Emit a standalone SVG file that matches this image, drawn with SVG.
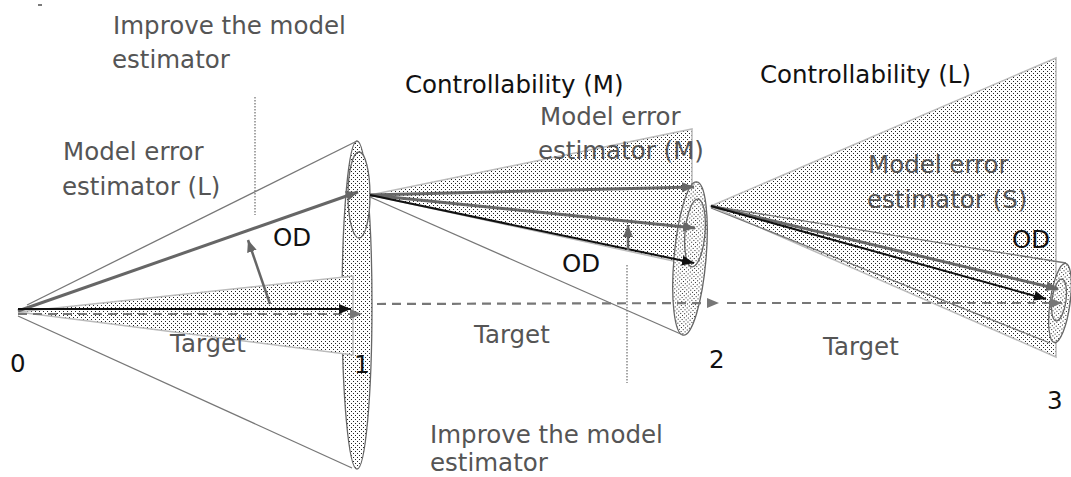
<svg xmlns="http://www.w3.org/2000/svg" width="1071" height="477" viewBox="0 0 1071 477">
<defs>
<pattern id="dots" width="4" height="4" patternUnits="userSpaceOnUse">
<rect width="4" height="4" fill="#fff"/>
<rect x="1" y="1" width="1" height="1" fill="#222"/>
<rect x="3" y="3" width="1" height="1" fill="#222"/>
</pattern>
<marker id="ahG" markerUnits="userSpaceOnUse" markerWidth="14" markerHeight="12" refX="12" refY="5" orient="auto">
<path d="M0,0 L12,5 L0,10 Z" fill="#666"/>
</marker>
<marker id="ahK" markerUnits="userSpaceOnUse" markerWidth="14" markerHeight="12" refX="12" refY="5" orient="auto">
<path d="M0,0 L12,5 L0,10 Z" fill="#111"/>
</marker>
<marker id="ahD" markerUnits="userSpaceOnUse" markerWidth="14" markerHeight="12" refX="12" refY="5" orient="auto">
<path d="M0,0 L12,5 L0,10 Z" fill="#777"/>
</marker>
</defs>
<style>
.t{font-family:"DejaVu Sans","Liberation Sans",sans-serif;font-size:24.5px}
.g{fill:#555}
.k{fill:#111}
.wedge{fill:url(#dots);stroke:#bbb;stroke-width:1.5}
.ell{fill:url(#dots);stroke:#666;stroke-width:1.3}
.thin{stroke:#777;stroke-width:1.3;fill:none}
.gray{stroke:#666;stroke-width:3;fill:none;marker-end:url(#ahG)}
.blk{stroke:#111;stroke-width:2;fill:none;marker-end:url(#ahK)}
.dash{stroke:#777;stroke-width:2.2;fill:none;stroke-dasharray:9,6;marker-end:url(#ahD)}
.dot{stroke:#777;stroke-width:1.3;stroke-dasharray:1.5,1.5;fill:none}
</style>
<rect width="1071" height="477" fill="#fff"/>
<line x1="38" y1="5" x2="42" y2="5" stroke="#222" stroke-width="1.2"/>

<g id="stage3-controllability">
<polygon class="wedge" points="711,206 1056,58 1056,357"/>
</g>
<g id="stage2-error">
<polygon class="wedge" points="370,195 692,129 692,265"/>
</g>
<g id="node1">
<ellipse class="ell" cx="357" cy="305" rx="15" ry="164"/>
<ellipse class="ell" cx="359" cy="195" rx="11" ry="43"/>
</g>
<g id="stage1-target">
<polygon class="wedge" points="18,312 353,276 353,355"/>
</g>
<g id="node2">
<ellipse class="ell" cx="0" cy="0" rx="16" ry="77" transform="translate(690,258.5) rotate(5)"/>
<ellipse class="ell" cx="0" cy="0" rx="10" ry="34" transform="translate(695,233) rotate(5)"/>
</g>
<g id="node3">
<line class="thin" x1="711" y1="206" x2="1066" y2="263"/>
<line class="thin" x1="711" y1="208" x2="1050" y2="343"/>
<ellipse class="ell" cx="0" cy="0" rx="10" ry="40" transform="translate(1060,303) rotate(8)"/>
<ellipse class="ell" cx="0" cy="0" rx="7" ry="21" transform="translate(1059,300) rotate(8)"/>
</g>

<g id="connectors">
<line class="thin" x1="27" y1="305" x2="357" y2="141"/>
<line class="thin" x1="18" y1="316" x2="352" y2="468"/>
<line class="thin" x1="370" y1="197" x2="683" y2="335"/>
<line class="dot" x1="255" y1="97" x2="255" y2="215"/>
<line class="dot" x1="627" y1="265" x2="627" y2="383"/>
<line class="gray" x1="18" y1="311" x2="358" y2="192"/>
<line class="dash" x1="18" y1="314" x2="362" y2="314"/>
<line class="blk" x1="18" y1="309" x2="351" y2="309"/>
<line class="gray" style="stroke-width:2.5" x1="270" y1="304" x2="248" y2="240"/>
<line class="dash" x1="377" y1="304" x2="719" y2="303"/>
<line class="dash" x1="727" y1="303" x2="1062" y2="303"/>
<line class="gray" x1="370" y1="195" x2="694" y2="187"/>
<line class="gray" x1="370" y1="195" x2="695" y2="228"/>
<line class="blk" x1="370" y1="195" x2="694" y2="263"/>
<line class="gray" style="stroke-width:2.5" x1="628" y1="250" x2="628" y2="225"/>
<line class="gray" x1="711" y1="206" x2="1058" y2="289"/>
<line class="blk" x1="711" y1="206" x2="1046" y2="299"/>
</g>

<g id="labels">
<text class="t g" x="113" y="34">Improve the model</text>
<text class="t g" x="112" y="68">estimator</text>
<text class="t g" x="63" y="160">Model error</text>
<text class="t g" x="62" y="195">estimator (L)</text>
<text class="t k" x="273" y="246">OD</text>
<text class="t g" x="170" y="352">Target</text>
<text class="t k" x="10" y="372">0</text>
<text class="t k" x="354" y="373">1</text>
<text class="t k" x="405" y="93">Controllability (M)</text>
<text class="t g" x="540" y="125">Model error</text>
<text class="t g" x="538" y="159">estimator (M)</text>
<text class="t k" x="562" y="272">OD</text>
<text class="t g" x="474" y="343">Target</text>
<text class="t k" x="709" y="368">2</text>
<text class="t g" x="430" y="443">Improve the model</text>
<text class="t g" x="430" y="471">estimator</text>
<text class="t k" x="760" y="83">Controllability (L)</text>
<text class="t g" x="868" y="173">Model error</text>
<text class="t g" x="867" y="208">estimator (S)</text>
<text class="t k" x="1012" y="248">OD</text>
<text class="t g" x="823" y="355">Target</text>
<text class="t k" x="1047" y="409">3</text>
</g>
</svg>
